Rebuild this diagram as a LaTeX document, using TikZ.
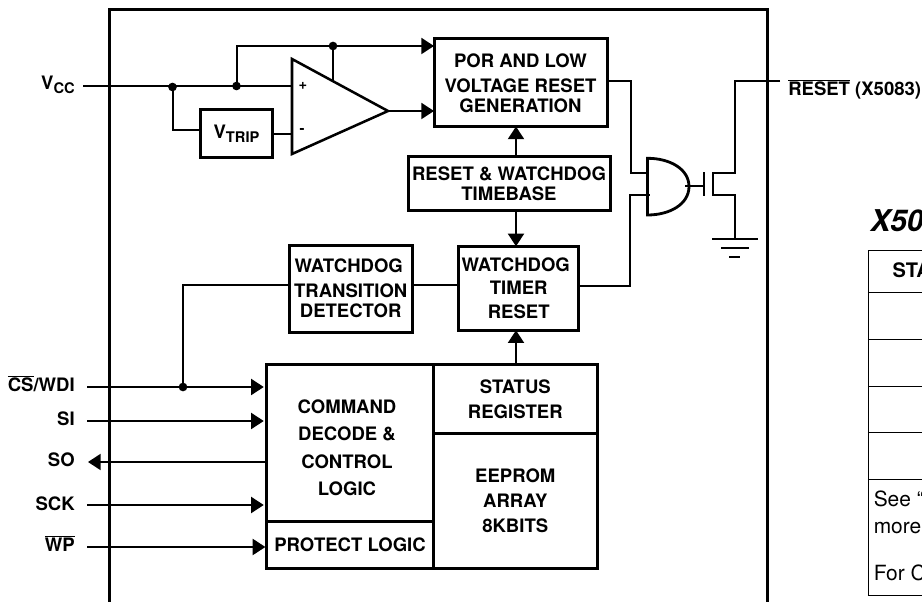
\documentclass[tikz,border=0pt]{standalone}
\usepackage{fontspec}
\setmainfont{TeX Gyre Heros}
\usetikzlibrary{arrows.meta}
\newcommand{\ovl}[1]{\ensuremath{\overline{\mbox{#1}}}}
\newcommand{\subtxt}[1]{\raisebox{-3pt}{\fontsize{11}{13}\selectfont #1}}
\newcommand{\nudge}[2]{\makebox[0pt]{\hspace*{#1}#2}}
\tikzset{
  x=0.75pt,y=-0.75pt,
  blk/.style={draw,line width=2.25pt,inner sep=0pt,outer sep=0pt,align=center,
    font=\fontsize{13.9}{15}\selectfont\bfseries},
  wh/.style n args={2}{minimum width={#1*0.75pt},minimum height={#2*0.75pt}},
  wire/.style={line width=1.5pt},
  arr/.style={wire,-{Triangle[length=9.5pt,width=12pt]}},
  sym/.style={line width=1.9pt},
  frm/.style={line width=2.25pt},
  tbl/.style={line width=0.75pt},
  dot/.style={circle,fill=black,inner sep=0pt,minimum size=6.5pt},
  pin/.style={anchor=base east,inner sep=0pt,font=\fontsize{13.9}{15}\selectfont\bfseries},
  txt/.style={anchor=base west,inner sep=0pt,font=\fontsize{15.7}{17}\selectfont},
}
\begin{document}
\begin{tikzpicture}
\useasboundingbox (0,0) rectangle (922,602);
% outer frame
\draw[frm] (109.5,602) -- (109.5,9.5) -- (767,9.5) -- (767,602);
% blocks
\node[blk,wh={173}{87.5}] (por) at (520.5,82.75) {POR AND LOW\\[3.75pt]VOLTAGE RESET\\GENERATION};
\node[blk,wh={202}{54}] (tb) at (509,184) {RESET \& WATCHDOG\\TIMEBASE};
\node[blk,wh={120}{84}] (wdt) at (518.7,288.3) {\hspace*{-4.5pt}WATCHDOG\\[2.25pt]TIMER\\[3pt]RESET};
\node[blk,wh={122.7}{87.3}] (det) at (350.7,288.7) {\hspace*{-3pt}WATCHDOG\\[3.75pt]TRANSITION\\DETECTOR};
\node[blk,wh={72.4}{48}] (vtrip) at (236.5,133.3) {V\subtxt{TRIP}};
\node[blk,wh={166.6}{157.4}] (cmd) at (350,443) {\rule{0pt}{17pt}\hspace*{-4.5pt}COMMAND\\[5.25pt]\hspace*{-4.5pt}DECODE \&\\[6pt]\hspace*{-4.5pt}CONTROL\\[5.25pt]\hspace*{-4.5pt}LOGIC};
\node[blk,wh={166.6}{46.6}] (prot) at (350,545) {PROTECT LOGIC};
\node[blk,wh={164}{69.7}] (stat) at (515.3,399.15) {STATUS\\[3.75pt]REGISTER};
\node[blk,wh={164}{134.3}] (eep) at (515.3,501.15) {EEPROM\\[3.75pt]ARRAY\\[3.75pt]8KBITS};
% pin labels
\node[pin] (lvcc) at (75,90) {V\subtxt{CC}};
\node[pin] (lcs) at (75,391.5) {\ovl{CS}/WDI};
\node[pin] (lsi) at (75,426) {SI};
\node[pin] (lso) at (75,466.5) {SO};
\node[pin] (lsck) at (75,510) {SCK};
\node[pin] (lwp) at (75,551.5) {\ovl{WP}};
\node[pin,anchor=base west] (lrst) at (788,96) {\ovl{RESET} (X5083)};
% free ends
\coordinate (pvcc) at (83,86);
\coordinate (pcs) at (87,387);
\coordinate (psi) at (87,421);
\coordinate (pso) at (88,462);
\coordinate (psck) at (87,505);
\coordinate (pwp) at (87,547);
\coordinate (prst) at (780,81);
% comparator
\coordinate (oa) at (292,59);
\coordinate (ob) at (292,154);
\coordinate (oc) at (388,111);
\coordinate (oplus) at (292,86);
\coordinate (ominus) at (292,134);
\draw[sym,line join=miter] (oa) -- (ob) -- (oc) -- cycle;
\node[inner sep=0pt,font=\fontsize{11}{13}\selectfont\bfseries] (plus) at (303,86) {+};
\node[inner sep=0pt,font=\fontsize{11}{13}\selectfont\bfseries] (minus) at (302,131) {-};
% junctions
\node[dot] (d1) at (172.5,87) {};
\node[dot] (d2) at (236.5,86) {};
\node[dot] (d3) at (333,46) {};
\node[dot] (d4) at (183,387) {};
% supply wires
\draw[wire] (pvcc) -- (oplus);
\draw[wire] (d1.center) -- (172.5,130) -- (vtrip.west |- 0,130);
\draw[wire] (vtrip.east |- ominus) -- (ominus);
\draw[arr] (d2.center) -- (236.5,46) -- (por.west |- d3.center);
\draw[wire] (d3.center) -- (333,80);
\draw[arr] (oc) -- (por.west |- oc);
% internal arrows
\draw[arr] (tb.north -| 516,0) -- (por.south -| 516,0);
\draw[arr] (tb.south -| 516,0) -- (wdt.north -| 516,0);
\draw[arr] (stat.north -| 516,0) -- (wdt.south -| 516,0);
% watchdog
\draw[wire] (det.east |- 0,285) -- (wdt.west |- 0,285);
\draw[wire] (det.west |- 0,285) -- (183,285) -- (d4.center);
% pins
\draw[arr,shorten >=2.2pt] (pcs) -- (cmd.west |- pcs);
\draw[arr,shorten >=2.2pt] (psi) -- (cmd.west |- psi);
\draw[arr] (cmd.west |- pso) -- (pso);
\draw[arr,shorten >=2.2pt] (psck) -- (cmd.west |- psck);
\draw[arr,shorten >=1pt] (pwp) -- (prot.west |- pwp);
% gate
\coordinate (gt) at (647.5,158.3);
\coordinate (gb) at (647.5,215);
\coordinate (gi1) at (647.5,173);
\coordinate (gi2) at (650,194.7);
\coordinate (go) at (685,186);
\draw[line width=2.1pt] (gt) -- (gb) .. controls (670,215) and (689,204) .. (689,186.6) .. controls (689,169) and (670,158.3) .. (gt) -- cycle;
\draw[wire] (por.east |- 0,81) -- (630.7,81) -- (630.7,173) -- (gi1);
\draw[wire] (wdt.east |- 0,286) -- (630,286) -- (630,194.7) -- (gi2);
% transistor
\coordinate (gp) at (704,186);
\draw[wire] (go) -- (gp);
\draw[wire] (704,172.3) -- (704,195.7);
\draw[wire,line join=miter] (prst) -- (735,81) -- (735,173) -- (712.7,173) -- (712.7,195) -- (735,195) -- (735,239);
% ground
\draw[wire] (712,238.8) -- (757.7,238.8);
\draw[wire] (721,248) -- (749,248);
\draw[wire] (729,257) -- (740,257);
% table fragment at the page edge
\node[anchor=base west,inner sep=0pt,font=\fontsize{22.5}{25}\selectfont\bfseries\itshape] (ttl) at (870,231.7) {X50};
\draw[tbl] (868.3,250.3) -- (868.3,595.3);
\foreach \yy in {250.3,292.7,339.3,386.3,432.3,479.3,595.3}
  \draw[tbl] (867.8,\yy) -- (922,\yy);
\node[anchor=base west,inner sep=0pt,font=\fontsize{15}{17}\selectfont\bfseries] (sta) at (892.3,277.7) {STA};
\node[txt] (t1) at (873.5,506.7) {See “};
\node[txt] (t2) at (873.5,533) {more};
\node[txt] (t3) at (873.5,580.7) {For C};
\end{tikzpicture}
\end{document}
